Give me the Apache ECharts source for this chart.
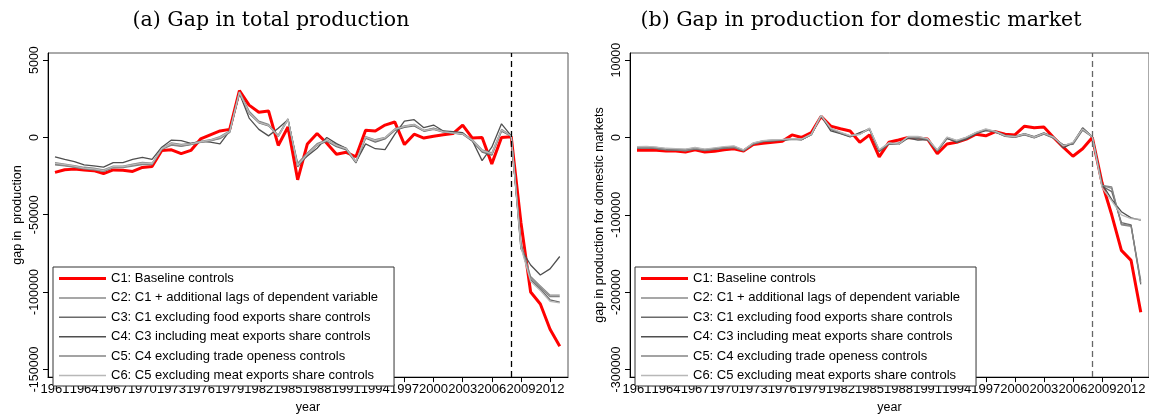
<!DOCTYPE html>
<html><head><meta charset="utf-8">
<script src="https://cdn.jsdelivr.net/npm/echarts@6/dist/echarts.min.js"></script>
<style>html,body{margin:0;padding:0;background:#fff}#c{width:1149px;height:419px}</style>
</head><body><div id="c"></div><script>
const years = [1961,1962,1963,1964,1965,1966,1967,1968,1969,1970,1971,1972,1973,1974,1975,1976,1977,1978,1979,1980,1981,1982,1983,1984,1985,1986,1987,1988,1989,1990,1991,1992,1993,1994,1995,1996,1997,1998,1999,2000,2001,2002,2003,2004,2005,2006,2007,2008,2009,2010,2011,2012,2013];
const xTickYears = [1961,1964,1967,1970,1973,1976,1979,1982,1985,1988,1991,1994,1997,2000,2003,2006,2009,2012];
const seriesNames = ['C1: Baseline controls','C2: C1 + additional lags of dependent variable','C3: C1 excluding food exports share controls','C4: C3 including meat exports share controls','C5: C4 excluding trade openess controls','C6: C5 excluding meat exports share controls'];
const treatYear = 2008;

// (a) total production
const totC1 = [-22600,-20900,-20500,-21000,-21500,-23400,-21000,-21300,-22000,-19400,-18800,-8400,-8000,-10500,-8400,-1000,1700,4200,5200,30300,20900,16300,17100,-5200,6700,-27400,-4200,2500,-3800,-10900,-9600,-12500,4600,4200,8000,10000,-4600,2100,-400,800,1700,2500,8000,-400,0,-17100,0,500,-55000,-100000,-107700,-124000,-135000];
const totC2 = [-16300,-17200,-18200,-19300,-19900,-21000,-18500,-18500,-17300,-16200,-16700,-7000,-3500,-4500,-3800,-2500,-1500,500,4200,29500,17000,10500,8500,500,11500,-16700,-10000,-4000,-1500,-5000,-7000,-15500,500,-1500,0,5500,7500,8500,4600,6000,4000,3000,2500,-1500,-8000,-10000,5200,1000,-68000,-90000,-96000,-102000,-102000];
const totC3 = [-17400,-18000,-19000,-20000,-20500,-21800,-19200,-19000,-18000,-17000,-17200,-7500,-4500,-5500,-4500,-3000,-2000,-500,3500,29000,15500,9400,7500,1000,12000,-19000,-11000,-5000,-2500,-6000,-8000,-16500,-500,-3000,-1000,4500,6500,7500,4000,5200,3500,2800,2000,-2500,-9500,-11500,4000,800,-70000,-92000,-98000,-105000,-106500];
const totC4 = [-12500,-14200,-15700,-17800,-18400,-19200,-16300,-16300,-14200,-12900,-14200,-6300,-1700,-2100,-3800,-2500,-3100,-4200,4200,28500,12500,5200,1000,5900,11500,-17800,-12000,-7000,0,-4000,-7000,-16000,-4200,-7300,-7900,2000,10500,11500,6300,8000,4200,3800,3100,-2100,-15000,-6300,8800,1000,-72000,-82500,-89000,-85000,-77000];
const totC5 = [-17800,-18400,-19300,-20400,-21000,-22000,-19600,-19500,-18500,-17500,-17600,-7800,-5000,-5800,-4600,-3200,-2200,-800,3200,28800,16500,10000,8000,1500,11800,-18500,-10500,-4500,-2000,-5500,-7500,-16000,0,-2500,-500,5000,7000,8000,4300,5800,3800,3000,2200,-2000,-9000,-11000,4500,900,-69000,-91000,-97000,-103000,-103000];
const totC6 = [-16800,-17600,-18600,-19800,-20300,-21400,-18900,-18800,-17700,-16600,-17000,-7200,-4000,-5000,-4200,-2800,-1800,0,3800,29200,16000,9800,7800,800,11700,-18000,-10800,-4800,-1800,-5200,-7200,-15800,200,-2000,-200,5200,7200,8200,4400,5600,3600,2900,2300,-1800,-8500,-10500,4800,900,-71000,-93000,-99000,-106000,-107000];

// (b) production for domestic market
const domC1 = [-16700,-16700,-16700,-17600,-17600,-18800,-15900,-18800,-18000,-15900,-14600,-17600,-9200,-7500,-6300,-5000,3300,0,6300,27200,14600,11300,8400,-6300,3300,-25100,-6300,-3300,0,-800,-2100,-20900,-8400,-6300,-2100,4200,2100,7500,4200,3300,14600,12500,13400,0,-12500,-24300,-14600,0,-58600,-100000,-146000,-159000,-226000];
const domC2 = [-12500,-12000,-13000,-14600,-15000,-15500,-13500,-15500,-14000,-12500,-11500,-16500,-7500,-4500,-3500,-3000,-2000,-2500,4000,28400,11700,6300,2100,4200,11700,-16700,-7500,-8400,800,800,-2100,-16700,0,-4200,0,6300,10500,7500,2100,800,4200,0,5000,0,-10500,-7500,11700,800,-62000,-66000,-112000,-114000,-185000];
const domC3 = [-14000,-13500,-14500,-16000,-16500,-17000,-15000,-17000,-15500,-14000,-13000,-17500,-8500,-5500,-4500,-3500,-2500,-3000,3500,27800,10500,5500,1500,5000,10500,-18500,-8500,-7500,0,-1500,-3000,-17500,-1500,-5000,-800,5500,9500,6800,1500,0,3300,-500,4200,-800,-9500,-9000,9500,500,-63000,-70000,-110000,-113000,-190000];
const domC4 = [-13000,-12800,-14000,-15500,-16000,-16500,-14200,-16000,-14800,-13200,-12200,-17000,-8000,-5000,-4000,-3300,-2200,-2800,3800,28000,8400,5000,800,6300,11000,-17500,-8000,-9000,-800,-3500,-2800,-17200,-800,-6300,-2100,5000,8800,8000,3000,1500,5000,1200,6000,800,-13500,-7000,12500,1000,-60000,-80000,-96000,-104000,-107000];
const domC5 = [-13500,-13000,-14200,-15800,-16200,-17200,-14500,-16500,-15000,-13500,-12800,-17200,-8200,-5200,-4200,-3200,-2400,-2600,3700,28200,11000,6000,1800,4500,11300,-17000,-7800,-8000,500,0,-2400,-17000,-400,-4600,-300,6000,10000,7200,1800,400,3800,-300,4600,-300,-10000,-8000,10500,700,-62000,-64000,-113000,-115000,-188000];
const domC6 = [-12000,-11500,-12500,-14000,-14500,-15000,-13000,-15000,-13500,-12000,-11000,-16000,-7000,-4000,-3000,-2500,-1500,-2000,4300,28600,12000,6800,2500,3800,12000,-16000,-7000,-8800,1200,1500,-1500,-16200,400,-3800,400,6600,11000,7800,2400,1200,4600,400,5400,400,-11000,-6500,11000,900,-65000,-82000,-100000,-105000,-106000];

const totTicks = [50000,0,-50000,-100000,-150000];
const totTickLabels = ['5000','0','-50000','-100000','-150000'];
const domTicks = [100000,0,-100000,-200000,-300000];
const domTickLabels = ['10000','0','-100000','-200000','-300000'];

const colors = ['#ff0000','#8a8a8a','#6a6a6a','#4f4f4f','#858585','#b8b8b8'];
const widths = [3,1.3,1.3,1.3,1.3,1.3];
const legendIcons = ['path://M0,0H47V3H0Z','path://M0,0H47V1.5H0Z','path://M0,0H47V1.5H0Z','path://M0,0H47V1.5H0Z','path://M0,0H47V1.5H0Z','path://M0,0H47V1.5H0Z'];

const SANS = 'Liberation Sans, Arial, sans-serif';
function pairs(vals){ return years.map((y,i)=>[y, vals[i]]); }

function makeSeries(dataSets, gi, dashColor){
  return dataSets.map((vals,k)=>{
    const s = {
      name: seriesNames[k], type:'line', xAxisIndex: gi, yAxisIndex: gi,
      data: pairs(vals), symbol:'none', showSymbol:false,
      lineStyle:{color: colors[k], width: widths[k]}, itemStyle:{color: colors[k]},
      z: k===0 ? 2 : 3, animation:false, silent:true
    };
    if(k===0){
      s.markLine = {silent:true, symbol:['none','none'], label:{show:false},
        lineStyle:{color: dashColor, type:[6,4], width:1.3},
        data:[{xAxis: treatYear}]};
    }
    return s;
  });
}

function xAxis(gi){
  return {gridIndex: gi, type:'value', min:1960.28, max:2013.85,
    name:'year', nameLocation:'middle', nameGap:23,
    nameTextStyle:{fontFamily:SANS, fontSize:12.5, color:'#000'},
    axisLine:{show:true, onZero:false, lineStyle:{color:'#000', width:1}},
    axisTick:{show:true, inside:false, length:5, customValues: xTickYears, lineStyle:{color:'#000'}},
    axisLabel:{customValues: xTickYears, formatter:(v)=>String(v), margin:6, fontFamily:SANS, fontSize:13, color:'#000'},
    splitLine:{show:false}};
}
function yAxis(gi, mn, mx, ticks, labels, name){
  return {gridIndex: gi, type:'value', min:mn, max:mx,
    name:name, nameLocation:'middle', nameGap:24,
    nameTextStyle:{fontFamily:SANS, fontSize:12.5, color:'#000'},
    axisLine:{show:true, onZero:false, lineStyle:{color:'#000', width:1}},
    axisTick:{show:true, inside:false, length:5, customValues: ticks, lineStyle:{color:'#000'}},
    axisLabel:{customValues: ticks, rotate:90, margin:7, fontFamily:SANS, fontSize:12.5, color:'#000',
      formatter:(v)=>{const i=ticks.indexOf(v); return i>=0?labels[i]:String(v);}},
    splitLine:{show:false}};
}
function legend(left){
  return {left:left, top:267, orient:'vertical', itemWidth:47, itemHeight:13, itemGap:6.4,
    padding:[5,16,4,6], borderColor:'#333', borderWidth:1, backgroundColor:'#fff',
    symbolKeepAspect:true,
    textStyle:{fontFamily:SANS, fontSize:13, color:'#000'},
    data: seriesNames.map((n,i)=>({name:n, icon: legendIcons[i]})), selectedMode:false};
}

const chart = echarts.init(document.getElementById('c'), null, {renderer:'canvas'});
chart.setOption({
  animation:false,
  backgroundColor:'#fff',
  title:[
    {text:'(a) Gap in total production', left:266, top:5, textAlign:'center',
      textStyle:{fontFamily:'DejaVu Serif', fontSize:20.5, fontWeight:'normal', color:'#000'}},
    {text:'(b) Gap in production for domestic market', left:856, top:5, textAlign:'center',
      textStyle:{fontFamily:'DejaVu Serif', fontSize:20.5, fontWeight:'normal', color:'#000'}}
  ],
  grid:[
    {left:48, top:53, width:520, height:334, show:true, borderColor:'#555', borderWidth:1},
    {left:630, top:53, width:520, height:334, show:true, borderColor:'#555', borderWidth:1}
  ],
  xAxis:[xAxis(0), xAxis(1)],
  yAxis:[
    yAxis(0, -155000, 54600, totTicks, totTickLabels, 'gap in  production'),
    yAxis(1, -309900, 109200, domTicks, domTickLabels, 'gap in production for domestic markets')
  ],
  legend:[legend(53), legend(635)],
  series: makeSeries([totC1,totC2,totC3,totC4,totC5,totC6], 0, '#000')
    .concat(makeSeries([domC1,domC2,domC3,domC4,domC5,domC6], 1, '#666'))
});
</script></body></html>
